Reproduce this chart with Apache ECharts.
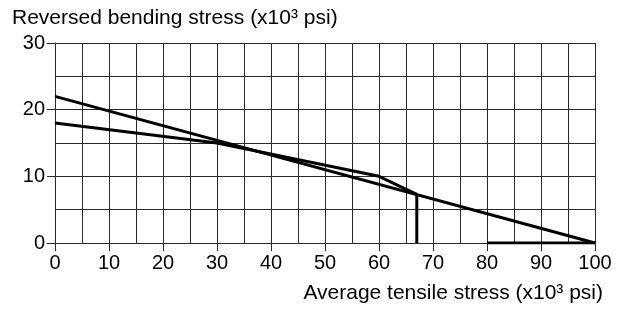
<!DOCTYPE html>
<html>
<head>
<meta charset="utf-8">
<script src="https://cdn.jsdelivr.net/npm/echarts@6/dist/echarts.min.js"></script>
<style>
  html, body { margin: 0; padding: 0; background: #fff; }
  #chart { width: 621px; height: 311px; }
</style>
</head>
<body>
<div id="chart"></div>
<script>
// average tensile stress (x10^3 psi) vs reversed bending stress (x10^3 psi)
const straightLine = [[0, 22], [100, 0]]
const brokenLine = [[0, 18], [30, 15], [60, 10], [67, 7.3], [67, 0]]
const baseSegment = [[80, 0], [100, 0]]

const xTicks = [0, 10, 20, 30, 40, 50, 60, 70, 80, 90, 100]
const yTicks = [0, 10, 20, 30]

const font = 'Liberation Sans, Arial, sans-serif'
const gridColor = '#2a2a2a'

let chart = echarts.init(document.getElementById('chart'))

function lineSeries(data) {
  return {
    type: 'line',
    data: data,
    symbol: 'none',
    animation: false,
    lineStyle: { color: '#000', width: 3 },
  }
}

chart.setOption({
  grid: { left: 55, right: 26, top: 43, bottom: 68 },
  xAxis: {
    type: 'value',
    min: xTicks[0],
    max: xTicks[xTicks.length - 1],
    interval: 10,
    name: 'Average tensile stress (x10³ psi)',
    nameLocation: 'end',
    nameGap: 8,
    nameTextStyle: {
      color: '#000', fontFamily: font, fontSize: 21,
      align: 'right', verticalAlign: 'top', padding: [40, 0, 0, 0],
    },
    axisLine: { show: true, lineStyle: { color: gridColor, width: 1 } },
    axisTick: { show: true, length: 8, lineStyle: { color: gridColor } },
    axisLabel: { color: '#000', fontFamily: font, fontSize: 20, margin: 10 },
    splitLine: { show: true, lineStyle: { color: gridColor, width: 1 } },
    minorTick: { show: false, splitNumber: 2 },
    minorSplitLine: { show: true, lineStyle: { color: gridColor, width: 1 } },
  },
  yAxis: {
    type: 'value',
    min: yTicks[0],
    max: yTicks[yTicks.length - 1],
    interval: 10,
    name: 'Reversed bending stress (x10³ psi)',
    nameLocation: 'end',
    nameGap: 14,
    nameTextStyle: {
      color: '#000', fontFamily: font, fontSize: 21,
      align: 'left', padding: [0, 0, 0, -43],
    },
    axisLine: { show: true, lineStyle: { color: gridColor, width: 1 } },
    axisTick: { show: true, length: 8, lineStyle: { color: gridColor } },
    axisLabel: { color: '#000', fontFamily: font, fontSize: 20, margin: 10 },
    splitLine: { show: true, lineStyle: { color: gridColor, width: 1 } },
    minorTick: { show: false, splitNumber: 2 },
    minorSplitLine: { show: true, lineStyle: { color: gridColor, width: 1 } },
  },
  series: [
    lineSeries(straightLine),
    lineSeries(brokenLine),
    lineSeries(baseSegment),
  ],
})
</script>
</body>
</html>
